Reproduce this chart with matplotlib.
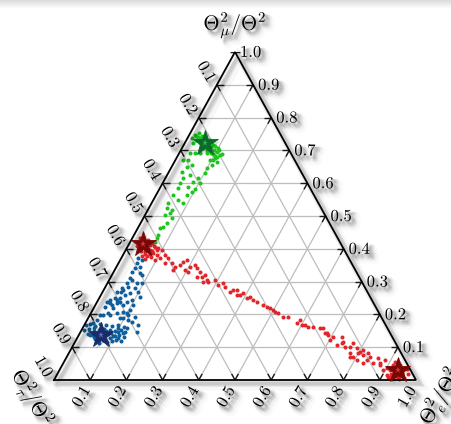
import numpy as np
import matplotlib.pyplot as plt
import matplotlib.patheffects as pe

plt.rcParams['mathtext.fontset'] = 'cm'

# ternary fractions (mu, e); tau = 1 - mu - e
green_mu = [.723, .692, .692, .692, .692, .671, .649, .655, .671, .655, .677, .665, .634, .625,
            .616, .604, .601, .616, .646, .631, .588, .585, .582, .573, .564, .564, .549, .540,
            .540, .524, .518, .509, .503, .494, .479, .466, .463, .442, .433, .421, .601, .671,
            .671, .747, .741, .735, .729, .720, .710, .701, .695, .686, .732, .723, .710, .701,
            .692, .683, .738, .753, .732, .716, .707,
            .744, .738, .726, .716, .706, .697, .690, .680, .714, .726, .735, .745, .700, .688]
green_e = [.023, .030, .043, .057, .077, .035, .043, .054, .096, .109, .106, .118, .036, .063,
           .048, .082, .048, .090, .099, .102, .076, .050, .098, .095, .085, .047, .068, .086,
           .045, .050, .067, .066, .055, .079, .073, .068, .061, .066, .068, .069, .103, .104,
           .021, .016, .027, .039, .050, .066, .078, .091, .103, .115, .027, .042, .056, .072,
           .088, .103, .012, .024, .065, .081, .099,
           .020, .033, .045, .060, .070, .082, .095, .110, .088, .070, .050, .035, .105, .120]

red_mu = [.433, .427, .418, .405, .396, .390, .396, .409, .387, .396, .378, .378,
          .381, .396, .381, .372, .366, .372, .357, .357, .345, .335, .351, .360, .366, .335,
          .329, .345, .351, .341, .329, .314, .320, .305, .299, .299, .314, .305, .290, .296,
          .284, .268, .274, .274, .259, .265, .250, .253, .238, .229, .223, .220, .207, .204,
          .192, .192, .174, .183, .168, .168, .162, .159, .159, .259, .244, .213, .162, .143,
          .131, .107, .116, .101, .098, .085, .076, .061, .070, .052, .046, .030, .015, .006,
          .070, .061, .052, .143, .137, .122, .131, .113, .101, .113, .082, .070, .082, .091,
          .082, .067, .052, .061, .037, .030, .046, .009, .003, .055, .046, .037, .021, .012,
          .018, .018, .006, .002, .024,
          .425, .420, .412, .400, .392, .385, .383, .392, .402, .410, .375, .370,
          .040, .028, .015, .008, .033, .050, .022, .010]
red_e = [.021, .046, .062, .076, .067, .056, .040, .025, .080, .086, .068, .054,
         .094, .100, .116, .107, .096, .129, .128, .148, .162, .161, .173, .177, .185, .194,
         .206, .203, .214, .224, .239, .252, .257, .270, .276, .262, .238, .292, .308, .319,
         .331, .352, .357, .368, .376, .390, .408, .415, .442, .463, .477, .487, .507, .517,
         .536, .550, .584, .588, .601, .610, .621, .656, .664, .384, .428, .498, .635, .683,
         .705, .728, .740, .767, .788, .802, .815, .834, .838, .855, .878, .894, .912, .933,
         .783, .807, .828, .677, .688, .701, .730, .739, .754, .770, .777, .791, .799, .808,
         .826, .862, .875, .884, .902, .913, .914, .918, .932, .915, .933, .951, .951, .939,
         .922, .969, .964, .953, .927,
         .030, .050, .060, .055, .045, .060, .075, .075, .085, .070, .080, .065,
         .920, .945, .955, .945, .960, .925, .930, .925]

blue_mu = [.372, .357, .366, .341, .345, .329, .326, .320, .311, .305, .296, .296, .296,
           .280, .284, .280, .268, .274, .268, .265, .268, .259, .253, .250, .244, .250, .244,
           .244, .238, .238, .235, .238, .223, .229, .235, .229, .229, .220, .213, .204, .207,
           .204, .204, .198, .198, .198, .198, .192, .189, .189, .183, .183, .177, .174, .168,
           .159, .146, .143, .146,
           .168, .171, .165, .171, .168, .165, .168, .162, .152, .155, .149, .152, .155, .152,
           .149, .152, .146, .140, .140, .137, .134, .134, .137, .131, .125, .122, .128, .122,
           .119, .116, .113,
           .160, .158, .150, .143, .135, .128, .120, .158, .144, .138, .130, .124]
blue_e = [.046, .051, .060, .053, .065, .051, .075, .083, .054, .063, .054, .081, .095,
          .048, .063, .083, .040, .053, .098, .077, .050, .067, .111, .044, .052, .057, .094,
          .033, .064, .083, .037, .028, .030, .046, .057, .076, .104, .053, .103, .047, .087,
          .072, .099, .028, .036, .056, .105, .128, .096, .088, .027, .113, .127, .021, .148,
          .122, .156, .119, .104,
          .005, .014, .031, .042, .060, .078, .093, .113, .007, .019, .036, .048, .060, .078,
          .094, .109, .123, .024, .079, .039, .054, .096, .111, .128, .051, .074, .091, .110,
          .126, .088, .068,
          .030, .050, .070, .085, .100, .112, .100, .098, .060, .030, .045, .062]

star_mu = [.723, .415, .137, .030]
star_e = [.056, .039, .061, .935]

tick_vals = [0.1, 0.2, 0.3, 0.4, 0.5, 0.6, 0.7, 0.8, 0.9, 1.0]
label_top = r'$\Theta_\mu^2/\Theta^2$'
label_left = r'$\Theta_\tau^2/\Theta^2$'
label_right = r'$\Theta_e^2/\Theta^2$'

green_c = '#1cc61c'
red_c = '#e0262a'
blue_c = '#0f5f9c'
star_c = ['#0a6a2a', '#7a0606', '#1c2a66', '#7a0606']
star_in = ['#35b050', '#d03a3a', '#4f70d0', '#d03a3a']

W, H = 451, 424
SX, SY = 362.0, 328.0  # pixel size of the triangle box


def to_xy(mu, e):
    mu = np.asarray(mu, float)
    e = np.asarray(e, float)
    return e + 0.5 * mu, mu


def text_fx():
    fx = []
    for dx, dy, w, a in [(2.0, -2.0, 1.0, .05), (2.8, -2.8, 2.5, .035), (3.6, -3.6, 4.0, .03),
                         (3.0, -2.0, 3.0, .03), (2.0, -3.0, 3.0, .03), (4.5, -4.5, 5.5, .02)]:
        fx.append(pe.Stroke(offset=(dx, dy), linewidth=w, foreground='k', alpha=a))
    fx.append(pe.Normal())
    return fx


def line_fx():
    fx = []
    for dx, dy, w, a in [(2, -2, 5, .05), (3, -3, 4, .06), (2.5, -2.5, 2.5, .08), (4, -4, 7, .03)]:
        fx.append(pe.SimpleLineShadow(offset=(dx, dy), shadow_color='k', alpha=a, linewidth=w))
    fx.append(pe.Normal())
    return fx


fig = plt.figure(figsize=(W / 100, H / 100), dpi=100)

# faint gray band at the very top
band = fig.add_axes([0, 1 - 9 / H, 1, 9 / H])
band.imshow(np.linspace(0.86, 1.0, 20).reshape(-1, 1), cmap='gray', vmin=0, vmax=1,
            aspect='auto', extent=(0, 1, 1, 0))
band.axis('off')

ax = fig.add_axes([54 / W, 44 / H, SX / W, SY / H])
ax.set_xlim(0, 1)
ax.set_ylim(0, 1)
ax.axis('off')

grid_kw = dict(color='#bdbdbd', lw=0.9, zorder=1)
tick_kw = dict(color='#1a1a1a', lw=1.0, zorder=2, solid_capstyle='butt')


def seg_tick(p0, p1, length=7.0):
    # short dark segment starting at p0 pointing towards p1 (length in pixels)
    dxp = (p1[0] - p0[0]) * SX
    dyp = (p1[1] - p0[1]) * SY
    f = length / np.hypot(dxp, dyp)
    return [p0[0], p0[0] + (p1[0] - p0[0]) * f], [p0[1], p0[1] + (p1[1] - p0[1]) * f]


for v in tick_vals[:-1]:
    lines = [((v / 2, v), (1 - v / 2, v)),            # mu = v
             ((v, 0), ((1 + v) / 2, 1 - v)),          # e = v
             ((1 - v, 0), ((1 - v) / 2, 1 - v))]     # tau = v
    for a, b in lines:
        ax.plot([a[0], b[0]], [a[1], b[1]], **grid_kw)
        ax.plot(*seg_tick(a, b), **tick_kw)
        ax.plot(*seg_tick(b, a), **tick_kw)
# tick at the top vertex
ax.plot([0.5 - 5 / SX, 0.5 + 5 / SX], [1, 1], **tick_kw)

ax.plot([0, 1, 0.5, 0], [0, 0, 1, 0], color='k', lw=1.3, zorder=5,
        solid_joinstyle='miter', path_effects=line_fx(), clip_on=False)

# data
for mu, e, c in [(green_mu, green_e, green_c), (red_mu, red_e, red_c), (blue_mu, blue_e, blue_c)]:
    x, y = to_xy(mu, e)
    ax.plot(x, y, 'o', ms=2.9, mew=0, color=c, zorder=3, clip_on=False)

sx, sy = to_xy(star_mu, star_e)
for i in range(len(sx)):
    ax.plot(sx[i], sy[i], marker='*', ms=19, color=star_c[i], mec=star_c[i], mew=0.6,
            zorder=6, clip_on=False,
            path_effects=[pe.SimplePatchShadow(offset=(2, -2), shadow_rgbFace='k', alpha=0.12),
                          pe.Normal()])
    ax.plot(sx[i], sy[i], marker='*', ms=5, color=star_in[i], mew=0, zorder=7, clip_on=False)

# tick labels
fs = 12
for v in tick_vals:
    lab = '$%.1f$' % v
    # right side: mu
    ax.annotate(lab, xy=(1 - v / 2, v), xytext=(5, 0), textcoords='offset pixels',
                ha='left', va='center', fontsize=fs, path_effects=text_fx())
    # left side: tau
    ax.annotate(lab, xy=((1 - v) / 2, 1 - v), xytext=(-10, 13), textcoords='offset pixels',
                ha='center', va='center', rotation=-60, rotation_mode='anchor',
                fontsize=fs, path_effects=text_fx())
    # bottom: e
    ax.annotate(lab, xy=(v, 0), xytext=(-9, -16), textcoords='offset pixels',
                ha='center', va='center', rotation=60, rotation_mode='anchor',
                fontsize=fs, path_effects=text_fx())

ax.annotate(label_top, xy=(0.5, 1), xytext=(0, 27), textcoords='offset pixels',
            ha='center', va='center', fontsize=15, path_effects=text_fx())
ax.annotate(label_left, xy=(0, 0), xytext=(-22, -18), textcoords='offset pixels',
            ha='center', va='center', rotation=-60, fontsize=15, path_effects=text_fx())
ax.annotate(label_right, xy=(1, 0), xytext=(24, -16), textcoords='offset pixels',
            ha='center', va='center', rotation=60, fontsize=15, path_effects=text_fx())

fig.savefig('out.png', dpi=100)
